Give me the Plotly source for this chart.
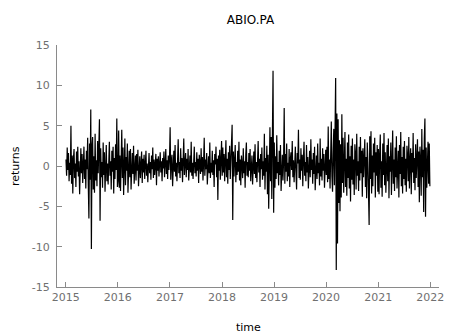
import pandas as pd
import plotly.graph_objects as go

title = "ABIO.PA"
x_label = "time"
y_label = "returns"
start_date = "2015-01-02"
end_date = "2021-12-30"
year_ticks = [2015, 2016, 2017, 2018, 2019, 2020, 2021, 2022]
y_ticks = [-15, -10, -5, 0, 5, 10, 15]

# hand-estimated returns, half-year blocks
r_2015a = [0.8, -1.2, 2.3, -0.5, 1.6, -1.9, 0.4, -1.1, 5.0, -2.2, 1.3, -3.4, 0.9, 2.1, -1.5, 0.3, -2.6, 1.8, -0.7, 2.4, -1.3, 0.6, -3.5, 1.1, 2.2, -0.9, 1.5, -2.1, 0.5, 2.4, -1.6, 0.8, -2.8, 1.9, -0.4, 3.5, -2.4, -6.5, 2.8, -1.7, 7.0, -10.3]
r_2015b = [2.5, 3.6, -2.9, 1.2, -3.3, 4.0, -1.8, 0.7, -2.5, 3.1, -0.9, 1.4, 5.8, -6.8, 2.2, -1.4, 0.5, -2.7, 2.9, -1.1, 1.7, -3.2, 0.8, 2.6, -1.9, 0.3, -2.3, 1.5, 3.0, -1.2, 0.6, -2.9, 1.9, -0.7, 2.4, -3.4, 1.0, -1.6, 2.7, -0.5, 5.9, -2.6]
r_2016a = [-1.8, 4.4, -2.7, 1.3, -3.1, 0.6, 4.5, -1.5, 2.3, -3.6, 0.9, 3.4, -2.4, 1.1, -0.6, 2.8, -3.3, 0.4, 1.9, -1.4, 2.1, -2.9, 0.7, 1.6, -1.0, 2.5, -2.2, 0.2, 1.3, -1.8, 1.5, -0.6, 2.0, -2.5, 0.8, 1.2, -1.5, 0.5, 1.8, -2.1, 0.9, -0.8]
r_2016b = [1.4, -1.6, 0.6, 1.9, -1.2, 0.3, -2.0, 1.1, 1.6, -0.9, 0.5, -1.7, 1.3, -0.4, 2.3, -1.5, 0.8, -1.1, 0.2, 1.5, -2.4, 0.9, -0.6, 1.2, -1.3, 0.4, 1.7, -0.8, 0.6, -1.9, 1.0, -0.3, 1.8, -1.4, 0.5, 2.1, -1.0, 0.7, -1.6, 1.3, -0.5, 0.9]
r_2017a = [4.8, -1.7, 0.6, 1.4, -2.5, 0.8, 1.9, -0.7, 2.6, -1.3, 0.4, -1.9, 1.2, 3.3, -0.9, 0.5, -1.5, 2.2, -0.6, 1.0, -2.0, 0.7, 3.4, -1.1, 0.3, 1.6, -1.4, 0.9, -0.5, 2.1, -1.8, 0.6, 1.3, -0.8, 3.0, -1.2, 0.4, -1.6, 1.1, 2.4, -0.9, 0.5]
r_2017b = [-1.3, 1.7, -0.6, 0.9, -2.1, 1.4, 0.3, -1.0, 2.2, -0.7, 1.1, -1.8, 0.5, 3.5, -1.2, 0.8, -0.4, 1.6, -2.3, 0.6, 1.2, -0.9, 2.9, -1.5, 0.4, -0.8, 1.9, -1.1, 0.7, -2.6, 1.5, 0.2, 2.4, -1.4, 0.9, -4.2, 1.3, -0.6, 2.0, -1.7, 0.8, 3.1]
r_2018a = [-1.2, 2.3, -0.8, 1.5, -1.9, 0.6, 3.2, -1.4, 0.9, -2.2, 1.7, -0.5, 2.5, -1.6, 0.4, 1.2, 5.1, -6.7, 1.8, -1.3, 0.7, 2.6, -2.0, 0.5, -1.1, 1.9, -0.7, 3.0, -1.8, 0.8, -2.4, 1.3, 0.2, -1.5, 2.2, -0.9, 0.6, -2.7, 1.4, 2.9, -1.2, 0.5]
r_2018b = [-1.4, 1.6, -0.6, 2.1, -1.9, 0.7, 1.3, -2.3, 0.4, 1.8, -1.0, 2.7, -1.5, 0.5, -2.0, 1.2, 3.1, -0.8, 0.9, -2.6, 1.5, -0.4, 2.3, -1.7, 0.6, -1.2, 4.0, -2.9, 1.0, -0.7, 2.5, -3.5, 1.4, -5.3, 2.2, 4.8, -1.9, 3.6, -4.1, 1.7, 11.8, -5.8]
r_2019a = [2.9, -2.7, 1.2, -1.6, 3.8, -0.9, 0.5, -2.4, 1.9, -1.1, 2.6, -3.1, 0.8, 1.4, -1.8, 0.6, 7.2, -2.2, 1.5, -0.7, 2.8, -1.9, 0.4, -1.3, 2.1, -2.6, 0.9, 1.7, -0.5, 3.1, -1.4, 0.7, -2.0, 1.3, 2.4, -0.8, -2.9, 1.6, 0.3, 4.5, -1.5, 0.8]
r_2019b = [-1.7, 2.2, -0.6, 1.4, -2.5, 0.9, 3.0, -1.2, 0.5, -1.9, 2.6, -0.8, 1.1, -2.8, 0.7, 1.9, -1.4, 3.3, -0.5, 0.8, -2.2, 1.6, -1.0, 2.4, -3.0, 0.6, 1.3, -1.6, 2.8, -0.9, 0.4, -2.4, 3.4, -1.3, 0.9, -1.8, 2.2, -0.6, 1.5, -2.7, 0.8, 2.0]
r_2020a = [-1.1, 2.4, -2.0, 4.9, -1.6, 0.8, -2.8, 2.1, 5.5, -1.3, -3.2, 1.7, 4.6, -2.4, 3.8, 10.9, -12.9, 6.5, -9.6, 5.8, -4.6, 3.2, -5.6, 2.7, -3.9, 6.4, -2.1, 3.5, -3.3, 1.4, 4.2, -2.6, 0.9, -3.7, 2.9, -1.5, 3.9, -2.8, 1.2, -4.4, 2.5, -1.7]
r_2020b = [3.4, -2.3, 0.8, -3.6, 2.7, 1.5, -2.9, 4.0, -1.2, 0.6, -3.1, 2.4, -1.8, 3.6, -0.9, 1.9, -3.8, 2.2, -1.4, 0.7, 3.3, -2.6, 1.1, -4.0, 2.9, 0.5, -2.2, -7.3, 3.7, -1.6, 4.3, -3.4, 1.3, -2.5, 2.8, -0.8, 3.5, -3.9, 1.7, -1.2, 2.6, -3.2]
r_2021a = [2.1, -3.5, 1.4, 3.9, -2.7, 0.6, -3.8, 2.8, -1.1, 4.1, -2.4, 1.7, -3.3, 0.9, 2.6, -1.9, 3.4, -4.0, 1.2, -0.7, 2.9, -3.6, 1.5, 4.4, -2.2, 0.8, -3.1, 2.3, -1.4, 3.7, -2.8, 0.5, 1.9, -3.9, 2.6, -1.0, 4.2, -2.5, 1.1, -3.4, 2.4, -1.6]
r_2021b = [3.1, -2.4, 0.9, -3.2, 2.5, 1.3, -1.9, 3.6, -2.8, 0.7, 2.2, -3.5, 1.6, -0.8, 4.1, -2.1, 1.0, -3.0, 2.7, -1.5, 0.6, 3.3, -2.6, 1.8, -4.5, 2.4, 0.8, -3.7, 4.6, -1.4, 2.0, -5.7, 3.4, 5.9, -6.3, 2.3, -2.7, 1.5, 3.0, -2.2, 2.8, -2.5]

returns = (r_2015a + r_2015b + r_2016a + r_2016b + r_2017a + r_2017b + r_2018a
           + r_2018b + r_2019a + r_2019b + r_2020a + r_2020b + r_2021a + r_2021b)
dates = pd.date_range(start_date, end_date, periods=len(returns))

font = "DejaVu Sans"
axis_grey = "#8a8a8a"
tick_grey = "#707070"

# the page body adds an 8px offset; the figure is sized to fit the window
W, H = 445, 328

fig = go.Figure(go.Scatter(x=dates, y=returns, mode="lines",
                           line=dict(color="black", width=1.2), showlegend=False))

fig.update_layout(
    width=W, height=H,
    margin=dict(l=49, r=9, t=37, b=49),
    paper_bgcolor="white", plot_bgcolor="white",
    font=dict(family=font, size=11, color=tick_grey),
    title=dict(text=title, x=(49 + 436) / 2 / W, xanchor="center",
               y=1 - 12 / H, yref="container", yanchor="middle",
               font=dict(family=font, size=12, color="black")),
)
fig.update_xaxes(
    range=["2014-10-31", "2022-03-04"],
    tickvals=[pd.Timestamp(f"{y}-01-01") for y in year_ticks],
    ticktext=[str(y) for y in year_ticks],
    showline=True, linecolor=axis_grey, linewidth=1,
    ticks="inside", ticklen=5, tickcolor=axis_grey,
    showgrid=False, zeroline=False,
)
fig.update_yaxes(
    range=[-15, 15], tickvals=y_ticks, ticktext=[str(v) for v in y_ticks],
    showline=True, linecolor=axis_grey, linewidth=1,
    ticks="inside", ticklen=5, tickcolor=axis_grey, ticklabelstandoff=4,
    showgrid=False, zeroline=False,
)
fig.add_annotation(text=x_label, xref="paper", yref="paper", x=0.5, y=0,
                   yshift=-40, showarrow=False, yanchor="middle",
                   font=dict(family=font, size=11, color="black"))
fig.add_annotation(text=y_label, xref="paper", yref="paper", x=0, y=0.5,
                   xshift=-42, showarrow=False, textangle=-90, xanchor="center",
                   font=dict(family=font, size=11, color="black"))

fig.write_html("out.html")
